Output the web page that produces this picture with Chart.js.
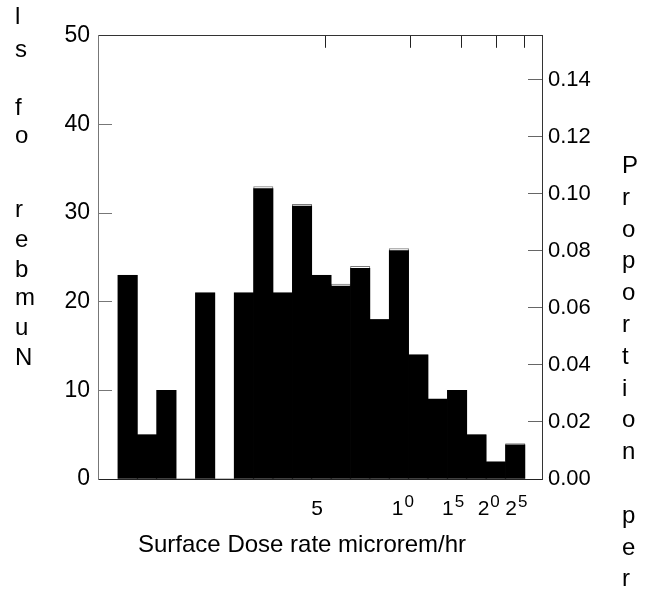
<!DOCTYPE html>
<html>
<head>
<meta charset="utf-8">
<script src="https://cdn.jsdelivr.net/npm/chart.js@4.4.0/dist/chart.umd.min.js"></script>
<style>
  html, body { margin: 0; padding: 0; background: #fff; }
  #wrap { width: 665px; height: 592px; position: relative; }
</style>
</head>
<body>
<div id="wrap"><canvas id="doseChart"></canvas></div>
<script>
// histogram bins: centres in microrem/hr (equal steps on the log axis)
const binCentres = [1.0139, 1.1858, 1.3868, 1.6218, 1.8967, 2.2182, 2.5942, 3.0339, 3.5481, 4.1495,
  4.8529, 5.6754, 6.6374, 7.7625, 9.0782, 10.617, 12.417, 14.521, 16.982, 19.861, 23.227];
const binCounts = [23, 5, 10, 0, 21, 0, 21, 33, 21, 31, 23, 22, 24, 18, 26, 14, 9, 10, 5, 2, 4];
const binProportions = [0.0714, 0.0155, 0.0311, 0, 0.0652, 0, 0.0652, 0.1018, 0.0652, 0.0956, 0.0714,
  0.0676, 0.0738, 0.0559, 0.0800, 0.0435, 0.0280, 0.0311, 0.0155, 0.0058, 0.0120];

const xTickValues = [5, 10, 15, 20, 25];
const xTickLabels = ['5', '10', '15', '20', '25'];
const countTicks = [0, 10, 20, 30, 40, 50];
const proportionTicks = [0, 0.02, 0.04, 0.06, 0.08, 0.10, 0.12, 0.14];

const xTitle = 'Surface Dose rate microrem/hr';
const leftTitle = 'Number of sl';      // stacked, read bottom to top
const rightTitle = 'Proportion per';   // stacked, read top to bottom

const FONT = '"Liberation Sans", Arial, sans-serif';

// letters of the stacked titles are placed one per line
const leftTitleY = [365, 335, 305, 277, 247, 217, 0, 143, 115, 0, 57, 24];
const rightTitleTop = 173;
const rightTitleStep = 31.8;

const titlesPlugin = {
  id: 'titlesPlugin',
  afterDraw(chart) {
    const ctx = chart.ctx;
    ctx.save();
    ctx.fillStyle = '#000';
    ctx.font = '24px ' + FONT;
    ctx.textBaseline = 'alphabetic';
    ctx.textAlign = 'left';
    leftTitle.split('').forEach((ch, i) => {
      if (ch !== ' ') ctx.fillText(ch, 15, leftTitleY[i]);
    });
    rightTitle.split('').forEach((ch, i) => {
      if (ch !== ' ') ctx.fillText(ch, 622, rightTitleTop + i * rightTitleStep);
    });
    ctx.fillText(xTitle, 138, 552);

    // x tick labels: the old plot printed the second digit raised
    const xScale = chart.scales.x;
    const baseFont = '21px ' + FONT;
    const supFont = '17px ' + FONT;
    xTickValues.forEach((v, i) => {
      const lbl = xTickLabels[i];
      const head = lbl.charAt(0);
      const tail = lbl.slice(1);
      ctx.font = baseFont;
      const wHead = ctx.measureText(head).width;
      ctx.font = supFont;
      const wTail = tail ? ctx.measureText(tail).width + 1 : 0;
      const cx = xScale.getPixelForValue(v) - 8;
      const x0 = cx - (wHead + wTail) / 2;
      ctx.font = baseFont;
      ctx.fillText(head, x0, 515);
      if (tail) {
        ctx.font = supFont;
        ctx.fillText(tail, x0 + wHead + 1, 507);
      }
    });
    ctx.restore();
  }
};

const ctxDose = document.getElementById('doseChart').getContext('2d');

const doseChart = new Chart(ctxDose, {
  type: 'bar',
  data: {
    datasets: [
      {
        label: 'Count',
        data: binCentres.map((x, i) => ({x: x, y: binCounts[i]})),
        xAxisID: 'x',
        yAxisID: 'y',
        backgroundColor: '#ffffff',
        borderColor: '#7a7a7a',
        borderWidth: 1,
        grouped: false,
        barPercentage: 1,
        categoryPercentage: 1,
        order: 2
      },
      {
        label: 'Proportion',
        data: binCentres.map((x, i) => ({x: x, y: binProportions[i]})),
        xAxisID: 'x',
        yAxisID: 'y1',
        backgroundColor: '#000000',
        borderWidth: 0,
        grouped: false,
        barPercentage: 1,
        categoryPercentage: 1,
        order: 1
      }
    ]
  },
  options: {
    responsive: true,
    maintainAspectRatio: false,
    animation: false,
    layout: { padding: 0 },
    plugins: {
      legend: { display: false },
      tooltip: { enabled: false },
      title: { display: false }
    },
    scales: {
      x: {
        type: 'logarithmic',
        position: 'bottom',
        min: 0.798,
        max: 28.84,
        offset: false,
        afterBuildTicks: (scale) => { scale.ticks = xTickValues.map(v => ({value: v})); },
        afterFit: (scale) => { scale.height = 113; },
        grid: { display: false, offset: false },
        border: { display: true, color: '#222222', width: 1 },
        ticks: { display: false }
      },
      xTop: {
        type: 'logarithmic',
        position: 'top',
        min: 0.798,
        max: 28.84,
        offset: false,
        afterBuildTicks: (scale) => { scale.ticks = xTickValues.map(v => ({value: v})); },
        afterFit: (scale) => { scale.height = 34; },
        grid: { display: true, offset: false, drawOnChartArea: false, drawTicks: true, tickLength: -12, color: '#222222' },
        border: { display: true, color: '#333333', width: 1 },
        ticks: { display: false }
      },
      y: {
        position: 'left',
        min: 0,
        max: 50,
        afterBuildTicks: (scale) => { scale.ticks = countTicks.map(v => ({value: v})); },
        afterFit: (scale) => { scale.width = 98; },
        grid: { display: true, drawOnChartArea: false, drawTicks: true, tickLength: -14, color: '#777777' },
        border: { display: true, color: '#777777', width: 1 },
        ticks: {
          padding: 22,
          color: '#000000',
          font: { family: FONT, size: 23 }
        }
      },
      y1: {
        position: 'right',
        min: 0,
        max: 0.1553,
        afterBuildTicks: (scale) => { scale.ticks = proportionTicks.map(v => ({value: v})); },
        afterFit: (scale) => { scale.width = 123; },
        grid: { display: true, drawOnChartArea: false, drawTicks: true, tickLength: -14, color: '#666666' },
        border: { display: true, color: '#333333', width: 1 },
        ticks: {
          padding: 20,
          color: '#000000',
          font: { family: FONT, size: 22 },
          callback: (value) => value.toFixed(2)
        }
      }
    }
  },
  plugins: [titlesPlugin]
});
</script>
</body>
</html>
